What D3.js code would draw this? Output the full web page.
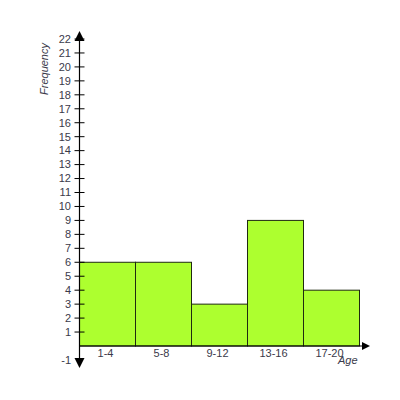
<!DOCTYPE html>
<html>
<head>
<meta charset="utf-8">
<script src="https://cdn.jsdelivr.net/npm/d3@7"></script>
<style>
  body { margin: 0; background: #fff; }
  text { font-family: "Liberation Sans", Arial, sans-serif; }
</style>
</head>
<body>
<div id="chart"></div>
<script>
// histogram data
const ageGroups = ["1-4", "5-8", "9-12", "13-16", "17-20"];
const frequencies = [6, 6, 3, 9, 4];
const yTicks = [-1, 1, 2, 3, 4, 5, 6, 7, 8, 9, 10, 11, 12, 13, 14, 15, 16, 17, 18, 19, 20, 21, 22];

const width = 400;
const height = 400;

const svg = d3.select("#chart")
  .append("svg")
  .attr("width", width)
  .attr("height", height);

// scales
const x = d3.scaleLinear().domain([0, ageGroups.length]).range([79.5, 359.5]);
const y = d3.scaleLinear().domain([0, 22]).range([346, 39]);

// bars
svg.selectAll(".bar")
  .data(frequencies)
  .enter()
  .append("rect")
  .attr("class", "bar")
  .attr("x", (d, i) => x(i))
  .attr("y", d => y(d))
  .attr("width", (d, i) => x(i + 1) - x(i))
  .attr("height", d => y(0) - y(d))
  .attr("fill", "#adff2f")
  .attr("stroke", "#1f2a10")
  .attr("stroke-width", 1);

// x axis line + arrow
svg.append("line")
  .attr("x1", x(0)).attr("x2", 364)
  .attr("y1", y(0)).attr("y2", y(0))
  .attr("stroke", "#000").attr("stroke-width", 1.2);
svg.append("path")
  .attr("d", `M370,${y(0)} L362,${y(0) - 4} L362,${y(0) + 4} Z`)
  .attr("fill", "#000");

// y axis line + arrows
svg.append("line")
  .attr("x1", x(0)).attr("x2", x(0))
  .attr("y1", 38).attr("y2", 362)
  .attr("stroke", "#000").attr("stroke-width", 1.2);
svg.append("path")
  .attr("d", `M${x(0)},31 L${x(0) - 5},41 L${x(0) + 5},41 Z`)
  .attr("fill", "#000");
svg.append("path")
  .attr("d", `M${x(0)},368 L${x(0) - 5},358 L${x(0) + 5},358 Z`)
  .attr("fill", "#000");

// y ticks and labels
const yt = svg.selectAll(".ytick")
  .data(yTicks)
  .enter()
  .append("g")
  .attr("class", "ytick")
  .attr("transform", d => `translate(0, ${y(d)})`);

yt.filter(d => d > 0)
  .append("line")
  .attr("x1", x(0) - 5).attr("x2", x(0) + 5)
  .attr("stroke", "#000").attr("stroke-width", 1);

yt.append("text")
  .text(d => d)
  .attr("x", 71)
  .attr("dy", "0.35em")
  .attr("text-anchor", "end")
  .attr("font-size", "11px")
  .attr("fill", "#3a3a4a");

// x category labels
svg.selectAll(".xlabel")
  .data(ageGroups)
  .enter()
  .append("text")
  .attr("class", "xlabel")
  .text(d => d)
  .attr("x", (d, i) => (x(i) + x(i + 1)) / 2 - 2)
  .attr("y", 357)
  .attr("text-anchor", "middle")
  .attr("font-size", "11px")
  .attr("fill", "#3a3a4a");

// axis titles
svg.append("text")
  .text("Age")
  .attr("x", 338)
  .attr("y", 364)
  .attr("font-size", "11px")
  .attr("font-style", "italic")
  .attr("fill", "#3a3a4a");

svg.append("text")
  .text("Frequency")
  .attr("transform", "translate(48, 69) rotate(-90)")
  .attr("text-anchor", "middle")
  .attr("font-size", "11px")
  .attr("font-style", "italic")
  .attr("fill", "#3a3a4a");
</script>
</body>
</html>
